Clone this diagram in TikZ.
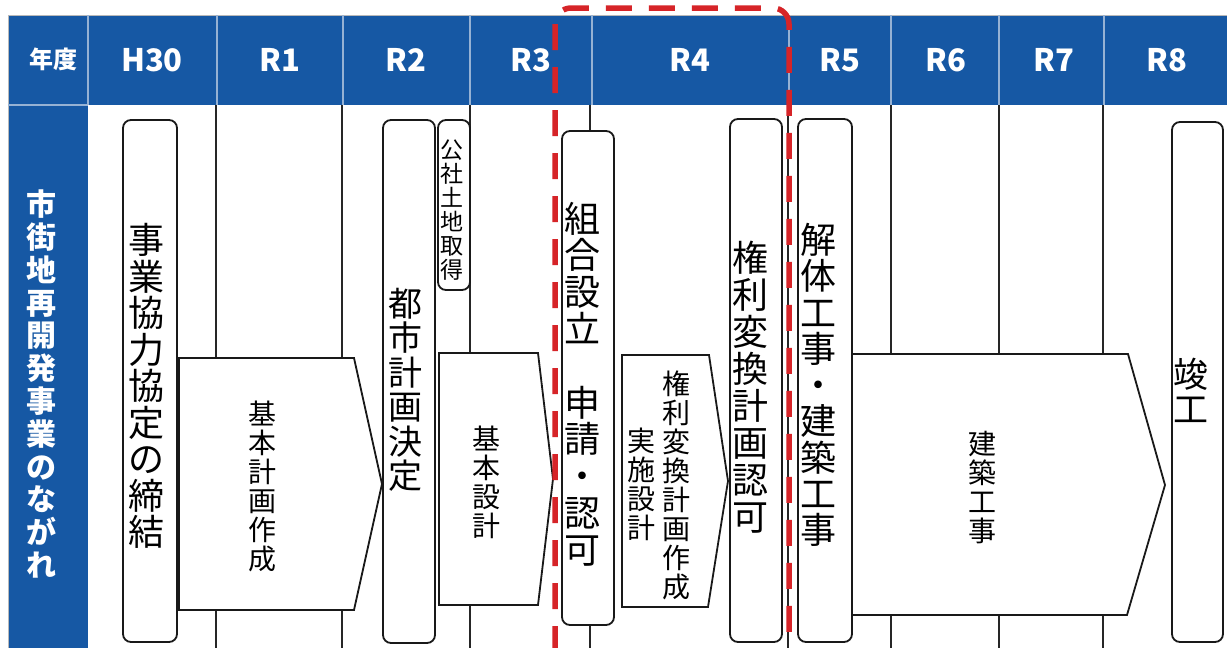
\documentclass[tikz,border=0pt]{standalone}
\usepackage{fontspec}
\newfontfamily\jp{Noto Sans CJK JP}
\newcommand\jfs[2]{\fontsize{#1}{#2}\selectfont}
\definecolor{hdrblue}{RGB}{22,88,164}
\definecolor{hdrline}{RGB}{150,178,212}
\definecolor{redd}{RGB}{214,36,40}
\begin{document}
\begin{tikzpicture}[x=1pt,y=-1pt,
  box/.style={draw=black!90,line width=1.8,fill=white,rounded corners=8},
  arrowbox/.style={draw=black!90,line width=1.8,fill=white},
  divline/.style={draw=black!85,line width=1.5},
  hline/.style={draw=hdrline,line width=1.2},
  reddash/.style={draw=redd,line width=5.5,dash pattern=on 26 off 17,rounded corners=16},
  hdr/.style={text=white,font=\jp\bfseries\jfs{31}{31},inner sep=0},
  side/.style={text=white,font=\jp\bfseries\jfs{30}{32.8},align=center,inner sep=0},
  big/.style={text=black,align=center,inner sep=0},
  small/.style={text=black,font=\jp\jfs{28}{29},align=center,inner sep=0}]
\clip (0,0) rectangle (1227,648);
\fill[white] (0,0) rectangle (1227,648);
% header band and side column
\fill[hdrblue] (8,15) rectangle (1240,105);
\fill[hdrblue] (8,105) rectangle (88,660);
\draw[draw=gray!55,line width=1] (8,660) -- (8,15) -- (1240,15);
\foreach \x in {88,217,343,470,592,789,891,999,1104}
  \draw[hline] (\x,15) -- (\x,105);
\draw[hline] (8,105) -- (88,105);
% header labels
\node[hdr,font=\jp\bfseries\jfs{24}{24}] (h0) at (53,59) {年度};
\node[hdr] (h1) at (152,60) {H30};
\node[hdr] (h2) at (280,60) {R1};
\node[hdr] (h3) at (406,60) {R2};
\node[hdr] (h4) at (531,60) {R3};
\node[hdr] (h5) at (690,60) {R4};
\node[hdr] (h6) at (840,60) {R5};
\node[hdr] (h7) at (946,60) {R6};
\node[hdr] (h8) at (1054,60) {R7};
\node[hdr] (h9) at (1167,60) {R8};
\node[side] (side) at (41,384) {市\\街\\地\\再\\開\\発\\事\\業\\の\\な\\が\\れ};
% body dividers
\foreach \x in {216,342,470,590,788,891,999,1103}
  \draw[divline] (\x,105) -- (\x,650);
% boxes and arrows
\draw[box] (123,120) rectangle (177,642);
\draw[arrowbox] (179,358) -- (354,358) -- (382,484) -- (354,610) -- (179,610) -- cycle;
\draw[box] (383,120) rectangle (435,643);
\draw[box] (438,120) rectangle (470,290);
\draw[arrowbox] (439,353) -- (538,353) -- (553,479) -- (538,605) -- (439,605) -- cycle;
\draw[box] (562,131) rectangle (614,625);
\draw[arrowbox] (622,355) -- (709,355) -- (728,481) -- (708,607) -- (622,607) -- cycle;
\draw[box] (730,119) rectangle (782,642);
\draw[box] (798,119) rectangle (852,642);
\draw[arrowbox] (852,354) -- (1128,354) -- (1165,485) -- (1127,615) -- (852,615) -- cycle;
\draw[box] (1172,122) rectangle (1223,642);
% texts
\node[big,font=\jp\jfs{36}{36.5}] (t1) at (146,386) {事\\業\\協\\力\\協\\定\\の\\締\\結};
\node[small] (t2) at (262,486) {基\\本\\計\\画\\作\\成};
\node[big,font=\jp\jfs{34}{34.5}] (t3) at (405,390) {都\\市\\計\\画\\決\\定};
\node[small,font=\jp\jfs{23}{24}] (t4) at (452,210) {公\\社\\土\\地\\取\\得};
\node[small] (t5) at (486,482) {基\\本\\設\\計};
\node[big,font=\jp\jfs{36}{36.8}] (t6) at (582,384) {組\\合\\設\\立\\\mbox{}\\申\\請\\・\\認\\可};
\node[small] (t7a) at (676,485) {権\\利\\変\\換\\計\\画\\作\\成};
\node[small] (t7b) at (641,484) {実\\施\\設\\計};
\node[big,font=\jp\jfs{36}{37}] (t8) at (750,387) {権\\利\\変\\換\\計\\画\\認\\可};
\node[big,font=\jp\jfs{36}{36.25}] (t9) at (818,385) {解\\体\\工\\事\\・\\建\\築\\工\\事};
\node[small] (t10) at (982,488) {建\\築\\工\\事};
\node[big,font=\jp\jfs{35}{35}] (t11) at (1191,390) {竣\\工};
% red dashed frame
\draw[reddash] (555,652) -- (555,8) -- (789,8) -- (789,652);
\end{tikzpicture}
\end{document}
